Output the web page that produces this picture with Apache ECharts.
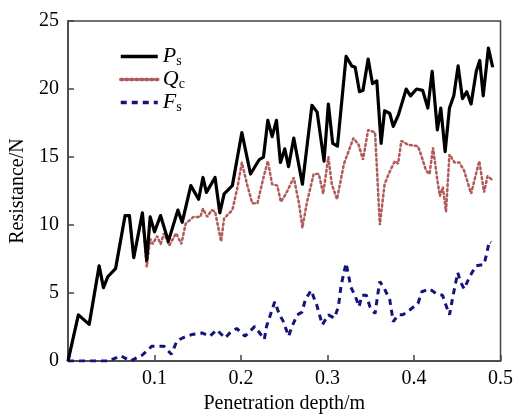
<!DOCTYPE html>
<html>
<head>
<meta charset="utf-8">
<script src="https://cdn.jsdelivr.net/npm/echarts@6/dist/echarts.min.js"></script>
<style>
  html, body { margin: 0; padding: 0; background: #fff; }
  #chart { width: 516px; height: 419px; }
</style>
</head>
<body>
<div id="chart"></div>
<script>
const SERIF = "'Liberation Serif','DejaVu Serif',serif";

const xTicks = [0, 0.1, 0.2, 0.3, 0.4, 0.5];
const yTicks = [0, 5, 10, 15, 20, 25];

const psDepth = [0, 0.012, 0.0245, 0.036, 0.041, 0.046, 0.055, 0.066, 0.071, 0.076, 0.086, 0.091, 0.095, 0.100,
  0.107, 0.116, 0.127, 0.132, 0.142, 0.151, 0.156, 0.160, 0.170, 0.1755, 0.1805, 0.190, 0.201, 0.211, 0.221,
  0.226, 0.231, 0.236, 0.241, 0.2456, 0.2506, 0.255, 0.261, 0.271, 0.282, 0.288, 0.296, 0.301, 0.306, 0.3115,
  0.3215, 0.328, 0.332, 0.337, 0.341, 0.347, 0.352, 0.357, 0.362, 0.366, 0.372, 0.376, 0.382, 0.391, 0.396,
  0.403, 0.410, 0.416, 0.421, 0.427, 0.431, 0.436, 0.441, 0.446, 0.451, 0.456, 0.461, 0.466, 0.472, 0.476,
  0.480, 0.486, 0.491];
const psValue = [0, 3.4, 2.7, 7.0, 5.4, 6.2, 6.8, 10.7, 10.7, 7.6, 10.9, 7.4, 10.6, 9.5,
  10.7, 8.8, 11.1, 10.2, 12.9, 11.9, 13.5, 12.4, 13.5, 10.9, 12.3, 12.9, 16.8, 13.75, 14.8,
  15.0, 17.7, 16.5, 17.7, 14.6, 15.6, 14.3, 16.4, 13.0, 18.8, 18.3, 14.7, 18.9, 16.0, 15.8,
  22.4, 21.7, 21.6, 19.8, 19.9, 22.2, 20.4, 20.6, 16.0, 18.4, 18.2, 17.25, 18.1, 20.0, 19.5,
  20.0, 19.9, 18.6, 21.3, 17.0, 18.6, 15.4, 18.6, 19.5, 21.7, 19.3, 19.8, 18.9, 21.3, 22.1,
  19.5, 23.0, 21.6];

const qcDepth = [0, 0.012, 0.0245, 0.036, 0.041, 0.046, 0.055, 0.066, 0.071, 0.076, 0.086, 0.091, 0.095, 0.098,
  0.103, 0.107, 0.111, 0.117, 0.125, 0.131, 0.136, 0.145, 0.153, 0.156, 0.161, 0.166, 0.170, 0.177, 0.1805,
  0.190, 0.196, 0.201, 0.207, 0.213, 0.219, 0.226, 0.231, 0.236, 0.242, 0.246, 0.252, 0.261, 0.267, 0.271,
  0.276, 0.284, 0.290, 0.295, 0.301, 0.305, 0.311, 0.319, 0.330, 0.336, 0.341, 0.347, 0.355, 0.3605, 0.366,
  0.371, 0.3778, 0.3816, 0.3854, 0.393, 0.4046, 0.408, 0.414, 0.418, 0.422, 0.427, 0.430, 0.4333, 0.437,
  0.441, 0.4468, 0.4525, 0.458, 0.466, 0.4716, 0.4755, 0.481, 0.485, 0.491];
const qcValue = [0, 3.4, 2.7, 7.0, 5.4, 6.2, 6.8, 10.7, 10.7, 7.6, 10.7, 6.9, 9.0, 8.6,
  9.2, 8.6, 9.4, 8.5, 9.4, 8.6, 10.1, 10.6, 10.6, 11.2, 10.6, 11.1, 11.0, 8.8, 10.5,
  11.1, 12.8, 14.6, 13.0, 11.6, 11.6, 13.5, 14.7, 13.0, 12.9, 11.7, 12.3, 13.5, 11.6, 9.8,
  11.6, 13.75, 13.75, 12.3, 15.0, 13.0, 11.9, 14.5, 16.4, 15.9, 14.8, 17.0, 16.8, 10.0, 13.0,
  13.8, 14.7, 14.5, 16.2, 15.9, 15.8, 15.2, 14.0, 13.75, 15.7, 13.3, 12.1, 12.8, 11.0,
  15.2, 14.6, 14.6, 14.0, 12.3, 13.75, 14.7, 12.4, 13.6, 13.3];

const fsDepth = [0, 0.047, 0.061, 0.072, 0.086, 0.097, 0.111, 0.1195, 0.126, 0.134, 0.143, 0.155, 0.164,
  0.172, 0.1816, 0.187, 0.195, 0.2046, 0.216, 0.227, 0.2295, 0.239, 0.244, 0.249, 0.255, 0.259, 0.265,
  0.2705, 0.2743, 0.281, 0.2877, 0.294, 0.301, 0.308, 0.3126, 0.3157, 0.3215, 0.324, 0.327, 0.3326, 0.3364,
  0.340, 0.345, 0.349, 0.355, 0.3586, 0.3605, 0.366, 0.372, 0.376, 0.3816, 0.387, 0.395, 0.4046, 0.409,
  0.418, 0.4257, 0.433, 0.437, 0.441, 0.4456, 0.4506, 0.4536, 0.458, 0.464, 0.4716, 0.481, 0.4843, 0.487, 0.489];
const fsValue = [0, 0, 0.4, 0, 0.45, 1.1, 1.1, 0.5, 1.5, 1.75, 1.95, 2.07, 1.83,
  2.3, 1.7, 2.07, 2.4, 1.83, 2.55, 1.6, 2.55, 4.36, 3.5, 2.9, 1.83, 2.55, 3.4,
  3.6, 4.5, 5.2, 4.1, 2.67, 3.4, 3.16, 4.0, 5.56, 7.2, 6.4, 5.44, 4.7, 4.0,
  4.84, 4.84, 4.0, 3.5, 5.1, 5.85, 5.3, 4.5, 2.9, 3.4, 3.4, 3.76, 4.24, 5.1,
  5.3, 4.96, 4.84, 4.1, 3.4, 4.96, 6.5, 5.85, 5.3, 6.16, 7.0, 7.1, 7.97, 8.8, 8.7];

const seriesNames = ['P_s', 'Q_c', 'F_s'];
const legendText = {
  P_s: '{i|P}{s|s}',
  Q_c: '{i|Q}{s|c}',
  F_s: '{i|F}{s|s}'
};

function pairs(xs, ys) {
  return xs.map((x, i) => [x, ys[i]]);
}

const chart = echarts.init(document.getElementById('chart'));

chart.setOption({
  animation: false,
  textStyle: { fontFamily: SERIF },
  grid: {
    left: 68, right: 13, top: 21, bottom: 52,
    show: true, borderColor: '#444', borderWidth: 1.5, backgroundColor: 'transparent'
  },
  legend: {
    data: seriesNames,
    orient: 'vertical',
    left: 114, top: 40,
    itemWidth: 37, itemHeight: 14, itemGap: 0,
    itemStyle: { opacity: 0 },
    lineStyle: { width: 3.5 },
    formatter: name => legendText[name],
    textStyle: {
      fontFamily: SERIF, color: '#000',
      rich: {
        i: { fontFamily: SERIF, fontStyle: 'italic', fontSize: 22, color: '#000', lineHeight: 20 },
        s: { fontFamily: SERIF, fontSize: 14, color: '#000', lineHeight: 14, padding: [9, 0, 0, 0] }
      }
    }
  },
  xAxis: {
    type: 'value', min: xTicks[0], max: xTicks[xTicks.length - 1], interval: 0.1,
    name: 'Penetration depth/m', nameLocation: 'middle', nameGap: 31,
    nameTextStyle: { fontFamily: SERIF, fontSize: 20, color: '#000' },
    axisLine: { show: true, lineStyle: { color: '#444', width: 1.5 } },
    axisTick: { show: true, inside: true, length: 6, lineStyle: { color: '#444', width: 1.5 } },
    axisLabel: {
      fontFamily: SERIF, fontSize: 20, color: '#000', margin: 8,
      formatter: v => (v === 0 ? '' : v.toFixed(1))
    },
    splitLine: { show: false }
  },
  yAxis: {
    type: 'value', min: yTicks[0], max: yTicks[yTicks.length - 1], interval: 5,
    name: 'Resistance/N', nameLocation: 'middle', nameGap: 35,
    nameTextStyle: { fontFamily: SERIF, fontSize: 20, color: '#000' },
    axisLine: { show: true, lineStyle: { color: '#444', width: 1.5 } },
    axisTick: { show: true, inside: true, length: 6, lineStyle: { color: '#444', width: 1.5 } },
    axisLabel: { fontFamily: SERIF, fontSize: 20, color: '#000', margin: 9 },
    splitLine: { show: false }
  },
  series: [
    {
      name: 'P_s', type: 'line', symbol: 'none', z: 3,
      data: pairs(psDepth, psValue),
      lineStyle: { color: '#000', width: 3.2, join: 'round' },
      itemStyle: { color: '#000' }
    },
    {
      name: 'Q_c', type: 'line', symbol: 'none', z: 2,
      data: pairs(qcDepth, qcValue),
      lineStyle: { color: '#b05a5a', width: 2.5, type: [2, 3], cap: 'round' },
      itemStyle: { color: '#b05a5a' }
    },
    {
      name: 'F_s', type: 'line', symbol: 'none', z: 2,
      data: pairs(fsDepth, fsValue),
      lineStyle: { color: '#14147a', width: 3, type: [6, 5] },
      itemStyle: { color: '#14147a' }
    }
  ]
});
</script>
</body>
</html>
